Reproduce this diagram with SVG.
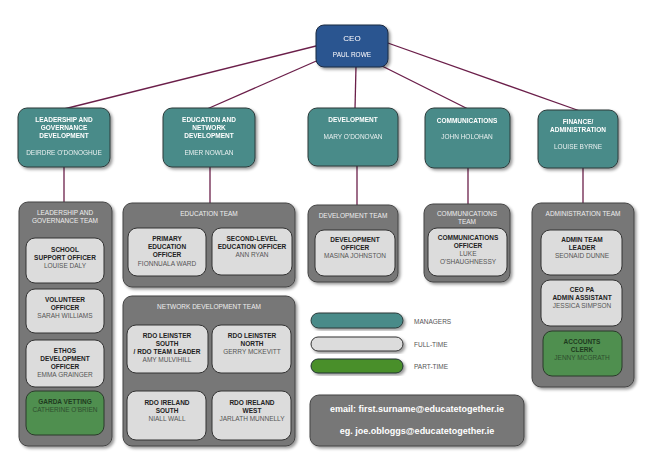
<svg xmlns="http://www.w3.org/2000/svg" width="650" height="459" viewBox="0 0 650 459">
<style>
text{font-family:"Liberation Sans",Arial,sans-serif;text-anchor:middle}
.mgr{fill:#4a8b89;stroke:#2a3a3a;stroke-width:1}
.ceo{fill:#2c5490;stroke:#1a2a40;stroke-width:1}
.team{fill:#777;stroke:#444;stroke-width:1}
.ft{fill:#dcdcdc;stroke:#333;stroke-width:1}
.pt{fill:#4f8f4f;stroke:#2a3a2a;stroke-width:1}
.mt{fill:#fff;font-size:6.5px;font-weight:bold}
.mn{fill:#e8f0f0;font-size:6.5px}
.tt{fill:#eee;font-size:6.5px}
.b{fill:#222;font-size:6.5px;font-weight:bold}
.n{fill:#555;font-size:6.5px}
.g{fill:#1e3a1e;font-size:6.5px;font-weight:bold}
.gn{fill:#2e4e2e;font-size:6.5px}
.lg{fill:#555;font-size:6.5px;text-anchor:start}
.em{fill:#fff;font-size:9px;font-weight:bold}
.conn line{stroke:#6b1f4a;stroke-width:1.3}
</style>
<defs><filter id="sh" x="-10%" y="-10%" width="130%" height="130%"><feDropShadow dx="2" dy="2" stdDeviation="1.5" flood-color="#000" flood-opacity="0.4"/></filter></defs>
<g id="connectors" class="conn">
<line x1="340" y1="40" x2="64" y2="109"/>
<line x1="330" y1="55" x2="207" y2="109"/>
<line x1="356" y1="66" x2="355" y2="109"/>
<line x1="370" y1="60" x2="468" y2="109"/>
<line x1="385" y1="42" x2="580" y2="111"/>
<line x1="64" y1="167" x2="64" y2="203"/>
<line x1="210" y1="167" x2="210" y2="204"/>
<line x1="357" y1="166" x2="357" y2="206"/>
<line x1="468" y1="168" x2="468" y2="205"/>
<line x1="583" y1="168" x2="583" y2="204"/>
</g>
<g id="ceo" filter="url(#sh)"><rect class="ceo" x="316" y="25" width="72" height="42" rx="8"/><text x="352" y="41" style="fill:#fff;font-size:8px">CEO</text><text x="352" y="57" style="fill:#fff;font-size:6.5px">PAUL ROWE</text></g>
<g id="m1" filter="url(#sh)"><rect class="mgr" x="18" y="108" width="92" height="59" rx="9"/><text class="mt" x="64" y="122">LEADERSHIP AND</text><text class="mt" x="64" y="130">GOVERNANCE</text><text class="mt" x="64" y="138">DEVELOPMENT</text><text class="mn" x="64" y="155">DEIRDRE O'DONOGHUE</text></g>
<g id="m2" filter="url(#sh)"><rect class="mgr" x="163" y="108" width="92" height="59" rx="9"/><text class="mt" x="209" y="122">EDUCATION AND</text><text class="mt" x="209" y="130">NETWORK</text><text class="mt" x="209" y="138">DEVELOPMENT</text><text class="mn" x="209" y="155">EMER NOWLAN</text></g>
<g id="m3" filter="url(#sh)"><rect class="mgr" x="308" y="108" width="90" height="58" rx="9"/><text class="mt" x="353" y="122">DEVELOPMENT</text><text class="mn" x="353" y="139">MARY O'DONOVAN</text></g>
<g id="m4" filter="url(#sh)"><rect class="mgr" x="425" y="108" width="85" height="60" rx="9"/><text class="mt" x="467" y="123">COMMUNICATIONS</text><text class="mn" x="467" y="139">JOHN HOLOHAN</text></g>
<g id="m5" filter="url(#sh)"><rect class="mgr" x="538" y="110" width="80" height="58" rx="9"/><text class="mt" x="578" y="124">FINANCE/</text><text class="mt" x="578" y="132">ADMINISTRATION</text><text class="mn" x="578" y="149">LOUISE BYRNE</text></g>

<g id="t1"><rect class="team" x="19" y="202" width="93" height="244" rx="9" filter="url(#sh)"/><text class="tt" x="65" y="215">LEADERSHIP AND</text><text class="tt" x="65" y="223">GOVERNANCE TEAM</text>
<rect class="ft" x="26" y="238" width="78" height="45" rx="9"/><text class="b" x="65" y="252">SCHOOL</text><text class="b" x="65" y="260">SUPPORT OFFICER</text><text class="n" x="65" y="268">LOUISE DALY</text>
<rect class="ft" x="26" y="289" width="78" height="44" rx="9"/><text class="b" x="65" y="302">VOLUNTEER</text><text class="b" x="65" y="310">OFFICER</text><text class="n" x="65" y="318">SARAH WILLIAMS</text>
<rect class="ft" x="26" y="340" width="78" height="47" rx="9"/><text class="b" x="65" y="353">ETHOS</text><text class="b" x="65" y="361">DEVELOPMENT</text><text class="b" x="65" y="369">OFFICER</text><text class="n" x="65" y="377">EMMA GRAINGER</text>
<rect class="pt" x="26" y="391" width="78" height="44" rx="9"/><text class="g" x="65" y="404">GARDA VETTING</text><text class="gn" x="65" y="412">CATHERINE O'BRIEN</text></g>

<g id="t2"><rect class="team" x="123" y="203" width="172" height="84" rx="9" filter="url(#sh)"/><text class="tt" x="209" y="216">EDUCATION TEAM</text>
<rect class="ft" x="128" y="228" width="78" height="48" rx="9"/><text class="b" x="167" y="241">PRIMARY</text><text class="b" x="167" y="249">EDUCATION</text><text class="b" x="167" y="257">OFFICER</text><text class="n" x="167" y="266">FIONNUALA WARD</text>
<rect class="ft" x="212" y="228" width="80" height="47" rx="9"/><text class="b" x="252" y="241">SECOND-LEVEL</text><text class="b" x="252" y="249">EDUCATION OFFICER</text><text class="n" x="252" y="257">ANN RYAN</text></g>

<g id="t3"><rect class="team" x="123" y="296" width="172" height="150" rx="9" filter="url(#sh)"/><text class="tt" x="209" y="309">NETWORK DEVELOPMENT TEAM</text>
<rect class="ft" x="127" y="325" width="81" height="48" rx="9"/><text class="b" x="167" y="338">RDO LEINSTER</text><text class="b" x="167" y="346">SOUTH</text><text class="b" x="167" y="354">/ RDO TEAM LEADER</text><text class="n" x="167" y="362">AMY MULVIHILL</text>
<rect class="ft" x="212" y="325" width="79" height="48" rx="9"/><text class="b" x="252" y="338">RDO LEINSTER</text><text class="b" x="252" y="346">NORTH</text><text class="n" x="252" y="354">GERRY MCKEVITT</text>
<rect class="ft" x="127" y="391" width="79" height="49" rx="9"/><text class="b" x="167" y="405">RDO IRELAND</text><text class="b" x="167" y="413">SOUTH</text><text class="n" x="167" y="421">NIALL WALL</text>
<rect class="ft" x="212" y="391" width="79" height="49" rx="9"/><text class="b" x="252" y="405">RDO IRELAND</text><text class="b" x="252" y="413">WEST</text><text class="n" x="252" y="421">JARLATH MUNNELLY</text></g>

<g id="t4"><rect class="team" x="308" y="205" width="90" height="77" rx="9" filter="url(#sh)"/><text class="tt" x="353" y="218">DEVELOPMENT TEAM</text>
<rect class="ft" x="315" y="230" width="80" height="46" rx="9"/><text class="b" x="355" y="242">DEVELOPMENT</text><text class="b" x="355" y="250">OFFICER</text><text class="n" x="355" y="258">MASINA JOHNSTON</text></g>

<g id="t5"><rect class="team" x="424" y="204" width="86" height="78" rx="9" filter="url(#sh)"/><text class="tt" x="467" y="216">COMMUNICATIONS</text><text class="tt" x="467" y="224">TEAM</text>
<rect class="ft" x="428" y="228" width="79" height="48" rx="9"/><text class="b" x="468" y="240">COMMUNICATIONS</text><text class="b" x="468" y="248">OFFICER</text><text class="n" x="468" y="256">LUKE</text><text class="n" x="468" y="264">O'SHAUGHNESSY</text></g>

<g id="t6"><rect class="team" x="532" y="203" width="102" height="184" rx="9" filter="url(#sh)"/><text class="tt" x="583" y="216">ADMINISTRATION TEAM</text>
<rect class="ft" x="541" y="230" width="81" height="45" rx="9"/><text class="b" x="582" y="242">ADMIN TEAM</text><text class="b" x="582" y="250">LEADER</text><text class="n" x="582" y="258">SEONAID DUNNE</text>
<rect class="ft" x="541" y="280" width="81" height="46" rx="9"/><text class="b" x="582" y="292">CEO PA</text><text class="b" x="582" y="300">ADMIN ASSISTANT</text><text class="n" x="582" y="308">JESSICA SIMPSON</text>
<rect class="pt" x="543" y="331" width="79" height="45" rx="9"/><text class="g" x="582" y="344">ACCOUNTS</text><text class="g" x="582" y="352">CLERK</text><text class="gn" x="582" y="360">JENNY MCGRATH</text></g>

<g id="legend">
<rect class="mgr" x="311" y="313" width="92" height="15" rx="7.5" filter="url(#sh)"/><text class="lg" x="414" y="324">MANAGERS</text>
<rect class="ft" x="311" y="337" width="92" height="14" rx="7" filter="url(#sh)"/><text class="lg" x="414" y="347">FULL-TIME</text>
<rect x="311" y="359" width="92" height="14" rx="7" fill="#4a8f2a" stroke="#233" filter="url(#sh)"/><text class="lg" x="414" y="369">PART-TIME</text>
</g>
<g id="email"><rect class="team" x="310" y="395" width="214" height="51" rx="9" filter="url(#sh)"/><text class="em" x="417" y="412">email: first.surname@educatetogether.ie</text><text class="em" x="417" y="434">eg.  joe.obloggs@educatetogether.ie</text></g>
</svg>
